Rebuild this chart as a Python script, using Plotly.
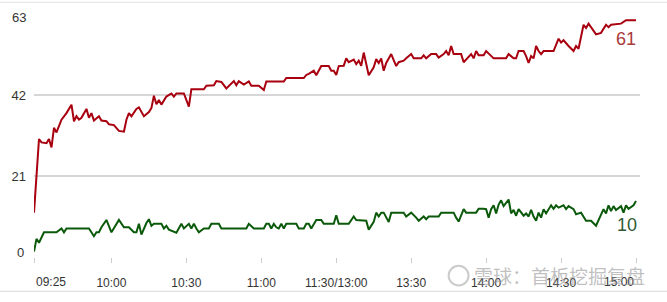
import plotly.graph_objects as go

# minute index of the trading session: 0 = 09:25, 1 = 09:30 ... 121 = 11:30/13:00 ... 241 = 15:00
red_minute = [0, 2, 3, 5, 6, 7, 8, 9, 11, 13, 15, 16, 17, 18, 19, 21, 22, 23, 24, 26, 27, 29, 30, 32, 34,
              36, 37, 38, 39, 41, 42, 43, 44, 46, 47, 48, 49, 50, 51, 53, 54, 55, 56, 57, 60, 62, 63, 68,
              69, 72, 73, 75, 77, 80, 81, 82, 84, 86, 87, 90, 92, 93, 100, 101, 108, 109, 110, 112, 113,
              115, 118, 119, 120, 121, 122, 124, 125, 126, 128, 129, 130, 131, 132, 133, 134, 136, 137,
              138, 139, 140, 141, 143, 145, 146, 148, 149, 151, 152, 155, 156, 157, 159, 161, 162, 164,
              165, 166, 167, 168, 171, 172, 175, 176, 177, 178, 180, 181, 184, 189, 190, 192, 193, 194,
              196, 197, 198, 199, 200, 201, 202, 203, 204, 208, 210, 211, 212, 213, 214, 216, 217, 218,
              220, 221, 222, 225, 227, 229, 230, 231, 235, 237, 241]
red_value = [11.5, 30.6, 29.7, 29.5, 30.6, 28.4, 33.5, 32.3, 35.6, 37.3, 39.5, 35.2, 36.5, 35.6, 36.1,
             38.4, 36.1, 37.3, 35.4, 36.5, 35.4, 35.2, 34.4, 34.2, 32.7, 32.5, 35.6, 37.3, 36.5, 38.4,
             38.8, 37.8, 36.5, 37.6, 38.6, 41.8, 39.6, 40.7, 39.5, 41.6, 42.0, 42.4, 41.6, 42.4, 42.4,
             39.0, 43.5, 43.5, 44.4, 44.5, 45.6, 45.4, 43.7, 45.6, 44.5, 45.6, 44.7, 45.5, 44.4, 44.4,
             43.3, 45.5, 45.5, 46.4, 46.4, 47.2, 47.5, 48.3, 47.1, 49.5, 49.5, 48.3, 48.3, 47.2, 49.5,
             49.6, 51.5, 50.5, 51.2, 50.0, 50.9, 49.6, 53.0, 49.6, 47.1, 49.2, 51.3, 50.3, 51.5, 48.3,
             50.3, 52.6, 49.5, 50.5, 50.9, 51.5, 52.6, 51.5, 51.5, 52.3, 51.5, 52.6, 52.6, 51.7, 52.6,
             53.4, 52.3, 54.7, 52.6, 52.6, 50.5, 52.6, 51.5, 53.4, 52.3, 52.3, 53.4, 51.5, 51.5, 52.6,
             51.5, 51.5, 53.4, 53.4, 52.1, 50.3, 52.1, 51.5, 54.7, 53.4, 52.6, 53.4, 53.4, 56.6, 55.6,
             56.2, 55.3, 54.7, 53.4, 54.7, 54.0, 60.2, 59.4, 60.5, 57.7, 58.1, 60.2, 59.6, 60.2, 60.5,
             61.4, 61.4]

green_minute = [0, 1, 2, 4, 9, 11, 12, 13, 22, 24, 25, 26, 27, 29, 31, 34, 36, 38, 40, 41, 42, 43, 45,
                46, 47, 48, 51, 52, 53, 54, 57, 58, 59, 60, 62, 63, 64, 65, 66, 68, 70, 71, 74, 75, 85,
                86, 88, 92, 93, 94, 95, 96, 97, 98, 99, 100, 101, 102, 105, 106, 108, 109, 110, 111,
                113, 115, 116, 120, 121, 122, 126, 128, 129, 133, 134, 136, 137, 138, 139, 140, 142,
                143, 148, 149, 151, 153, 154, 156, 157, 158, 162, 163, 168, 169, 170, 172, 173, 177,
                178, 180, 181, 182, 183, 184, 185, 186, 187, 188, 190, 191, 192, 193, 194, 196, 197,
                198, 199, 200, 201, 202, 203, 204, 205, 207, 208, 209, 210, 212, 213, 214, 216, 217,
                219, 221, 223, 225, 227, 228, 229, 230, 231, 232, 233, 235, 236, 237, 238, 240, 241]
green_value = [1.4, 4.7, 3.7, 6.4, 6.4, 7.4, 6.4, 7.4, 7.4, 5.4, 6.4, 6.4, 7.7, 9.6, 6.4, 9.6, 7.7, 7.7,
               6.4, 6.4, 8.6, 5.8, 8.8, 9.8, 8.1, 8.6, 8.6, 7.4, 8.1, 7.1, 6.3, 7.4, 8.6, 7.4, 8.6,
               7.4, 8.6, 7.4, 6.4, 7.4, 7.4, 8.6, 8.6, 7.4, 7.4, 8.6, 7.4, 7.4, 8.6, 8.6, 7.4, 8.6,
               7.7, 7.4, 8.6, 7.4, 8.6, 8.6, 8.6, 7.4, 7.4, 8.6, 8.6, 7.4, 9.6, 9.6, 8.6, 8.6, 10.8,
               8.6, 8.6, 10.5, 9.6, 9.4, 7.1, 9.1, 11.5, 10.5, 11.5, 11.5, 9.1, 11.5, 11.5, 10.5,
               11.5, 10.2, 9.4, 10.5, 9.8, 10.5, 10.5, 11.5, 11.5, 10.2, 9.2, 12.4, 11.5, 11.5, 12.5,
               12.5, 12.4, 10.2, 12.4, 13.4, 11.3, 13.6, 14.7, 13.2, 14.9, 11.3, 12.2, 10.7, 12.4,
               10.7, 11.3, 10.5, 12.2, 10.5, 9.4, 11.5, 10.2, 12.4, 11.3, 13.4, 12.5, 13.4, 12.8,
               13.4, 12.4, 13.2, 12.4, 11.1, 11.5, 9.4, 9.4, 8.1, 10.7, 12.4, 11.3, 13.4, 11.9, 13.2,
               12.2, 13.2, 11.5, 13.4, 12.5, 13.4, 14.5]

tick_minutes = [0, 31, 61, 91, 121, 151, 181, 211, 241]
tick_labels = ["09:25", "10:00", "10:30", "11:00", "11:30/13:00", "13:30", "14:00", "14:30", "15:00"]
y_ticks = [0, 21, 42, 63]
red_last_label = "61"
green_last_label = "10"
watermark = "雪球：首板挖掘复盘"

fig = go.Figure()
fig.add_trace(go.Scatter(x=red_minute, y=red_value, mode="lines",
                         line=dict(color="#a8000f", width=2), cliponaxis=False, hoverinfo="skip"))
fig.add_trace(go.Scatter(x=green_minute, y=green_value, mode="lines",
                         line=dict(color="#0b5a0b", width=2), cliponaxis=False, hoverinfo="skip"))

inner_text = ["" if i in (0, len(tick_labels) - 1) else t for i, t in enumerate(tick_labels)]
y_text = ["" if v in (y_ticks[0], y_ticks[-1]) else str(v) for v in y_ticks]

fig.update_layout(
    width=667, height=302,
    margin=dict(l=32, r=27, t=14, b=40),
    paper_bgcolor="white", plot_bgcolor="white",
    showlegend=False,
    font=dict(family="Liberation Sans, Arial, sans-serif", size=12, color="#333"),
    xaxis=dict(range=[0, 242.6], tickmode="array", tickvals=tick_minutes, ticktext=inner_text,
               showgrid=False, zeroline=False, showline=False,
               ticks="outside", ticklen=5, tickcolor="#cccccc", tickwidth=1,
               ticklabelstandoff=10, tickfont=dict(size=12, color="#333")),
    yaxis=dict(range=[0, 63], tickmode="array", tickvals=y_ticks, ticktext=y_text,
               showgrid=True, gridcolor="#d6d6d6", gridwidth=2, zeroline=False, showline=False,
               ticks="", ticklabelstandoff=7, tickfont=dict(size=13, color="#333")),
)

# edge y labels shifted inward
fig.add_annotation(x=0, xref="paper", xanchor="right", xshift=-6, y=y_ticks[-1], yref="y",
                   yanchor="middle", yshift=-3, text=str(y_ticks[-1]), showarrow=False,
                   font=dict(size=13, color="#333"))
fig.add_annotation(x=0, xref="paper", xanchor="right", xshift=-8, y=y_ticks[0], yref="y",
                   yanchor="middle", yshift=5, text=str(y_ticks[0]), showarrow=False,
                   font=dict(size=13, color="#333"))

# edge tick labels aligned inward
fig.add_annotation(x=tick_minutes[0], xref="x", y=0, yref="paper", yanchor="top", xanchor="left",
                   yshift=-16, text=tick_labels[0], showarrow=False, font=dict(size=12, color="#333"))
fig.add_annotation(x=tick_minutes[-1], xref="x", y=0, yref="paper", yanchor="top", xanchor="right",
                   yshift=-16, text=tick_labels[-1], showarrow=False, font=dict(size=12, color="#333"))

# end value labels
fig.add_annotation(x=red_minute[-1], xref="x", y=56.4, yref="y", xanchor="right", yanchor="middle",
                   xshift=2, text=red_last_label, showarrow=False,
                   font=dict(size=18, color="#a83a3a"))
fig.add_annotation(x=green_minute[-1], xref="x", y=8.4, yref="y", xanchor="right", yanchor="middle",
                   xshift=3, text=green_last_label, showarrow=False,
                   font=dict(size=18, color="#2f5a32"))

# watermark with logo ring
fig.add_annotation(x=1.0115, xref="paper", y=-0.075, yref="paper", xanchor="right", yanchor="middle",
                   text=watermark, showarrow=False,
                   font=dict(size=19, color="rgba(150,150,150,0.6)",
                             family="Noto Sans CJK SC, sans-serif"))
fig.add_shape(type="circle", xref="paper", yref="paper",
              x0=(448 - 32) / 608, x1=(468 - 32) / 608, y0=(262 - 291) / 248, y1=(262 - 271) / 248,
              line=dict(color="rgba(160,160,160,0.55)", width=2))

# thin page borders
fig.add_shape(type="line", xref="paper", yref="paper", x0=-0.06, x1=1.05, y0=1.048, y1=1.048,
              line=dict(color="#e4e4e4", width=1))
fig.add_shape(type="line", xref="paper", yref="paper", x0=-0.06, x1=1.05, y0=-0.141, y1=-0.141,
              line=dict(color="#d8d8d8", width=1))

fig.write_html("out.html")
